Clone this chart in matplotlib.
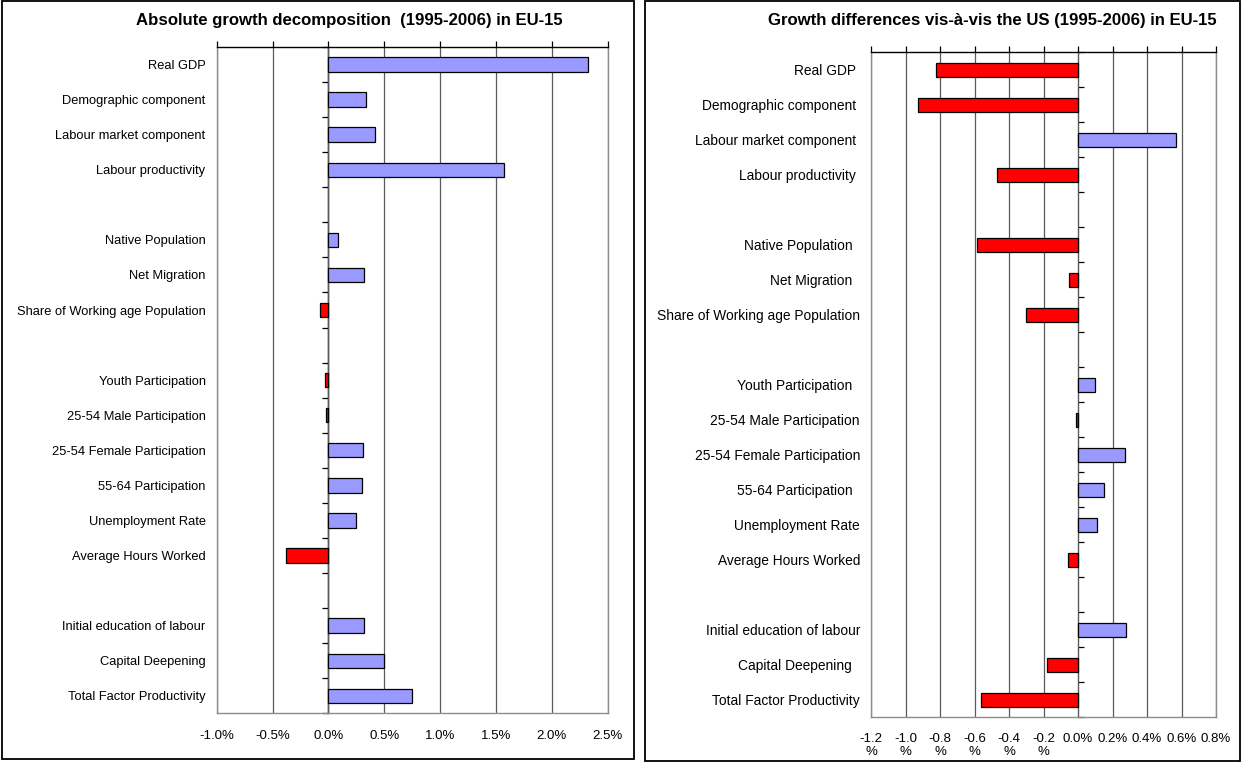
import numpy as np
import matplotlib
matplotlib.use('Agg')
import matplotlib.pyplot as plt
from matplotlib.patches import Rectangle

plt.rcParams['font.family'] = ['Liberation Sans', 'DejaVu Sans']

# Categories, top to bottom ("" marks an empty separator slot)
categories = [
    "Real GDP", "Demographic component", "Labour market component", "Labour productivity",
    "",
    "Native Population", "Net Migration", "Share of Working age Population",
    "",
    "Youth Participation", "25-54 Male Participation", "25-54 Female Participation",
    "55-64 Participation", "Unemployment Rate", "Average Hours Worked",
    "",
    "Initial education of labour", "Capital Deepening", "Total Factor Productivity",
]

# Right panel labels carry trailing blanks as in the original sheet
categories_us = [
    "Real GDP ", "Demographic component ", "Labour market component ", "Labour productivity ",
    "",
    "Native Population  ", "Net Migration  ", "Share of Working age Population",
    "",
    "Youth Participation  ", "25-54 Male Participation", "25-54 Female Participation",
    "55-64 Participation  ", "Unemployment Rate", "Average Hours Worked",
    "",
    "Initial education of labour", "Capital Deepening  ", "Total Factor Productivity",
]

# Absolute growth (%), EU-15, 1995-2006
growth_eu = [2.32, 0.335, 0.42, 1.57, np.nan,
             0.087, 0.32, -0.077, np.nan,
             -0.03, -0.02, 0.305, 0.30, 0.25, -0.38, np.nan,
             0.315, 0.50, 0.75]

# Growth difference vs the US (%)
diff_us = [-0.825, -0.93, 0.57, -0.47, np.nan,
           -0.585, -0.05, -0.30, np.nan,
           0.097, -0.013, 0.27, 0.153, 0.11, -0.056, np.nan,
           0.276, -0.178, -0.56]

left_ticks = [-1.0, -0.5, 0.0, 0.5, 1.0, 1.5, 2.0, 2.5]
left_ticklabels = [f"{t:.1f}%" for t in left_ticks]
right_ticks = [-1.2, -1.0, -0.8, -0.6, -0.4, -0.2, 0.0, 0.2, 0.4, 0.6, 0.8]
right_ticklabels = [f"{t:.1f}\n%" if t < 0 else f"{t:.1f}%" for t in right_ticks]

blue = '#9999ff'
red = '#ff0000'
grid_color = '#5a5a5a'
frame_color = '#8c8c8c'


def draw_panel(ax, labels, values, ticks, ticklabels, pad, label_size):
    n = len(labels)
    y = np.arange(n)
    vals = np.array(values, dtype=float)
    colors = [blue if v >= 0 else red for v in np.nan_to_num(vals)]
    mask = ~np.isnan(vals)
    ax.barh(y[mask], vals[mask], height=0.41, color=np.array(colors)[mask],
            edgecolor='black', linewidth=0.9, zorder=3)

    ax.set_xlim(ticks[0], ticks[-1])
    ax.set_ylim(n - 0.5, -0.5)
    ax.set_xticks(ticks)
    ax.set_xticklabels(ticklabels, fontsize=9.5, linespacing=1.15)
    ax.xaxis.set_tick_params(top=True, bottom=False, labelbottom=True,
                             direction='out', length=4, width=0.9, pad=pad)
    ax.grid(axis='x', color=grid_color, linewidth=0.9, zorder=1)

    ax.set_yticks(y)
    ax.set_yticklabels(labels, fontsize=label_size)
    ax.tick_params(axis='y', length=0, pad=8)

    for side in ['left', 'right', 'bottom']:
        ax.spines[side].set_color(frame_color)
        ax.spines[side].set_linewidth(1.0)
    ax.spines['top'].set_color('black')
    ax.spines['top'].set_linewidth(1.0)

    # category axis along zero with ticks between categories
    x0, x1 = ax.get_xlim()
    zero_loc = (0 - x0) / (x1 - x0)
    sec = ax.secondary_yaxis(zero_loc)
    sec.set_yticks(np.arange(n + 1) - 0.5)
    sec.set_yticklabels([])
    sec.tick_params(length=4, width=0.9, direction='out', color='black')
    sec.spines['left'].set_color('black')
    sec.spines['left'].set_linewidth(1.0)


fig = plt.figure(figsize=(12.42, 7.62), dpi=100)
fig.patch.set_facecolor('white')

# panel frames
fig.patches.append(Rectangle((2 / 1242, 1 - 759 / 762), 632 / 1242, 758 / 762,
                             transform=fig.transFigure, fill=False,
                             edgecolor='black', linewidth=1.3))
fig.patches.append(Rectangle((645 / 1242, 1 - 761 / 762), 595 / 1242, 760 / 762,
                             transform=fig.transFigure, fill=False,
                             edgecolor='black', linewidth=1.3))

ax1 = fig.add_axes([0.1745, 0.0639, 0.3148, 0.8744])
draw_panel(ax1, categories, growth_eu, left_ticks, left_ticklabels, pad=8, label_size=9.3)

ax2 = fig.add_axes([0.7013, 0.0587, 0.2778, 0.8727])
draw_panel(ax2, categories_us, diff_us, right_ticks, right_ticklabels, pad=7, label_size=9.9)

fig.text(349 / 1242, 1 - 20 / 762, "Absolute growth decomposition  (1995-2006) in EU-15",
         ha='center', va='center', fontsize=12.1, fontweight='bold')
fig.text(992 / 1242, 1 - 20 / 762, "Growth differences vis-à-vis the US (1995-2006) in EU-15",
         ha='center', va='center', fontsize=12.1, fontweight='bold')

fig.savefig('out.png', dpi=100, facecolor='white')
